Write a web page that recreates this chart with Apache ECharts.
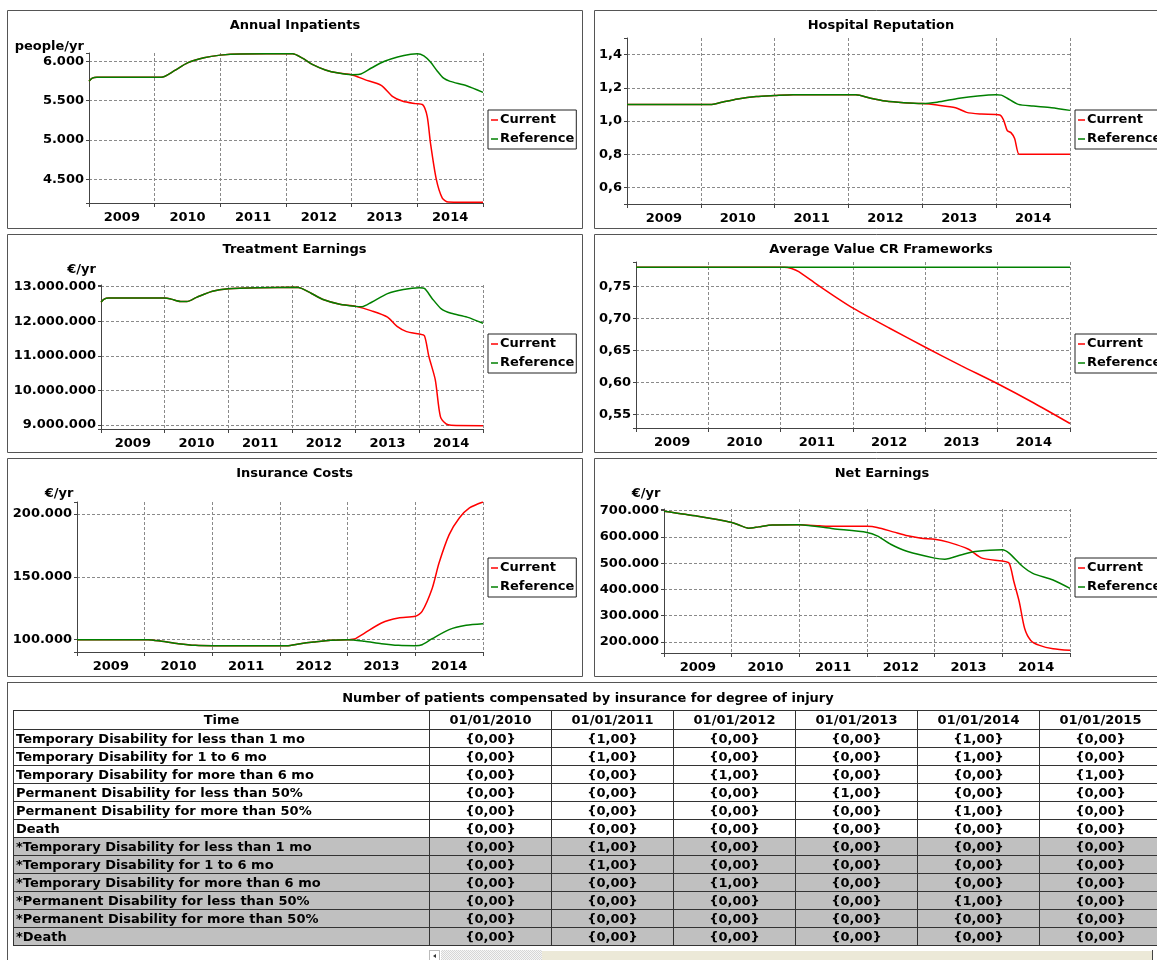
<!DOCTYPE html>
<html>
<head>
<meta charset="utf-8">
<script src="https://cdn.jsdelivr.net/npm/echarts@6.0.0/dist/echarts.min.js"></script>
<style>
html,body{margin:0;padding:0;background:#fff;width:1157px;height:960px;overflow:hidden;position:relative;}
#chart{position:absolute;left:0;top:0;width:1157px;height:960px;}
#tpanel{position:absolute;left:7px;top:682px;width:1165px;height:300px;border:1px solid #555;box-sizing:border-box;}
#ttitle{position:absolute;left:7px;width:1162px;top:690px;text-align:center;font:bold 13px "DejaVu Sans",Verdana,sans-serif;line-height:16px;color:#000;}
#tbl{position:absolute;left:13px;top:710px;border-collapse:collapse;table-layout:fixed;font:bold 13px "DejaVu Sans",Verdana,sans-serif;color:#000;}
#tbl td,#tbl th{border:1px solid #333;padding:0 2px;height:17px;line-height:17px;white-space:nowrap;overflow:hidden;font-weight:bold;}
#tbl th{height:18px;line-height:18px;text-align:center;}
#tbl td.v{text-align:center;}
#tbl tr.g td{background:#c0c0c0;}
#sb{position:absolute;left:429px;top:950px;width:740px;height:12px;}
#sb .arr{position:absolute;left:0;top:0;width:11px;height:11px;background:#fff;border:1px solid #bbb;box-sizing:border-box;}
#sb .arr:after{content:"";position:absolute;left:3px;top:3px;border-style:solid;border-width:2px 3px 2px 0;border-color:transparent #333 transparent transparent;}
#sb .trk{position:absolute;left:12px;top:0;width:101px;height:12px;background-image:repeating-conic-gradient(#d6d6d6 0 25%,#f6f6f6 0 50%);background-size:2px 2px;}
#sb .thm{position:absolute;left:113px;top:0;width:610px;height:12px;background:#ece9d8;border-top:1px solid #fff;box-sizing:border-box;}
#sb .end{position:absolute;left:723px;top:0;width:1px;height:12px;background:#444;}
</style>
</head>
<body>
<div id="chart"></div>
<div id="tpanel"></div>
<div id="ttitle"></div>
<table id="tbl"></table>
<div id="sb"><div class="arr"></div><div class="trk"></div><div class="thm"></div><div class="end"></div></div>
<script>
// ---------- x-axis labels ----------
const years = ['2009', '2010', '2011', '2012', '2013', '2014'];

// ---------- Annual Inpatients (people/yr) ----------
const inpRefT = [2009.00, 2009.05, 2009.12, 2010.10, 2010.30, 2010.50, 2010.75, 2011.00, 2011.30, 2012.10, 2012.25, 2012.40, 2012.60, 2012.80, 2013.00, 2013.12, 2013.30, 2013.50, 2013.70, 2013.90, 2014.00, 2014.10, 2014.20, 2014.30, 2014.40, 2014.50, 2014.75, 2015.00];
const inpRefV = [5745, 5785, 5797, 5797, 5880, 5980, 6045, 6078, 6093, 6095, 6040, 5960, 5890, 5850, 5830, 5835, 5915, 6000, 6055, 6090, 6095, 6068, 5990, 5880, 5785, 5745, 5690, 5605];
const inpCurT = [2009.00, 2009.05, 2009.12, 2010.10, 2010.30, 2010.50, 2010.75, 2011.00, 2011.30, 2012.10, 2012.25, 2012.40, 2012.60, 2012.80, 2013.00, 2013.20, 2013.45, 2013.62, 2013.78, 2013.97, 2014.08, 2014.15, 2014.20, 2014.29, 2014.38, 2014.47, 2014.60, 2015.00];
const inpCurV = [5745, 5785, 5797, 5797, 5880, 5980, 6045, 6078, 6093, 6095, 6040, 5960, 5890, 5850, 5830, 5767, 5695, 5555, 5492, 5462, 5449, 5300, 4962, 4496, 4263, 4212, 4210, 4210];

// ---------- Hospital Reputation ----------
const repRefT = [2009.00, 2010.15, 2010.30, 2010.50, 2010.75, 2011.00, 2011.25, 2012.10, 2012.30, 2012.50, 2012.75, 2013.00, 2013.20, 2013.50, 2013.75, 2014.00, 2014.07, 2014.15, 2014.30, 2014.50, 2014.75, 2015.00];
const repRefV = [1.100, 1.100, 1.115, 1.133, 1.147, 1.153, 1.158, 1.158, 1.137, 1.120, 1.110, 1.105, 1.113, 1.137, 1.151, 1.158, 1.156, 1.137, 1.100, 1.090, 1.080, 1.064];
const repCurT = [2009.00, 2010.15, 2010.30, 2010.50, 2010.75, 2011.00, 2011.25, 2012.10, 2012.30, 2012.50, 2012.75, 2013.00, 2013.20, 2013.45, 2013.60, 2013.80, 2014.05, 2014.10, 2014.15, 2014.20, 2014.25, 2014.31, 2014.40, 2015.00];
const repCurV = [1.100, 1.100, 1.115, 1.133, 1.147, 1.153, 1.158, 1.158, 1.137, 1.120, 1.110, 1.105, 1.096, 1.080, 1.052, 1.042, 1.036, 1.006, 0.942, 0.930, 0.895, 0.800, 0.800, 0.800];

// ---------- Treatment Earnings (EUR/yr) ----------
const teRefT = [2009.00, 2009.05, 2009.12, 2010.00, 2010.10, 2010.25, 2010.35, 2010.50, 2010.75, 2011.00, 2011.50, 2012.05, 2012.15, 2012.30, 2012.50, 2012.75, 2013.00, 2013.10, 2013.25, 2013.50, 2013.75, 2014.00, 2014.08, 2014.20, 2014.35, 2014.50, 2014.75, 2015.00];
const teRefV = [12550000, 12640000, 12670000, 12670000, 12640000, 12570000, 12570000, 12690000, 12870000, 12940000, 12970000, 12980000, 12950000, 12810000, 12620000, 12490000, 12430000, 12420000, 12550000, 12800000, 12920000, 12970000, 12950000, 12660000, 12350000, 12230000, 12120000, 11940000];
const teCurT = [2009.00, 2009.05, 2009.12, 2010.00, 2010.10, 2010.25, 2010.35, 2010.50, 2010.75, 2011.00, 2011.50, 2012.05, 2012.15, 2012.30, 2012.50, 2012.75, 2013.00, 2013.25, 2013.50, 2013.65, 2013.80, 2014.00, 2014.08, 2014.15, 2014.25, 2014.33, 2014.42, 2014.50, 2015.00];
const teCurV = [12550000, 12640000, 12670000, 12670000, 12640000, 12570000, 12570000, 12690000, 12870000, 12940000, 12970000, 12980000, 12950000, 12810000, 12620000, 12490000, 12430000, 12300000, 12120000, 11850000, 11700000, 11630000, 11580000, 10980000, 10310000, 9250000, 9030000, 8990000, 8980000];

// ---------- Average Value CR Frameworks ----------
const crRefT = [2009.00, 2015.00];
const crRefV = [0.780, 0.780];
const crCurT = [2009.00, 2011.05, 2011.15, 2011.25, 2011.50, 2011.75, 2012.00, 2012.50, 2013.00, 2013.50, 2014.00, 2014.50, 2015.00];
const crCurV = [0.780, 0.780, 0.778, 0.773, 0.753, 0.734, 0.716, 0.685, 0.655, 0.626, 0.598, 0.568, 0.536];

// ---------- Insurance Costs (EUR/yr) ----------
const icRefT = [2009.00, 2010.05, 2010.25, 2010.50, 2010.75, 2011.00, 2012.10, 2012.30, 2012.50, 2012.75, 2013.00, 2013.25, 2013.50, 2013.75, 2014.00, 2014.10, 2014.25, 2014.50, 2014.75, 2015.00];
const icRefV = [100000, 100000, 98700, 96800, 95500, 95200, 95200, 96800, 98100, 99500, 100000, 98700, 96800, 95500, 95200, 96000, 100800, 108000, 111400, 112700];
const icCurT = [2009.00, 2010.05, 2010.25, 2010.50, 2010.75, 2011.00, 2012.10, 2012.30, 2012.50, 2012.75, 2013.00, 2013.10, 2013.25, 2013.50, 2013.75, 2014.00, 2014.10, 2014.25, 2014.35, 2014.50, 2014.65, 2014.80, 2015.00];
const icCurV = [100000, 100000, 98700, 96800, 95500, 95200, 95200, 96800, 98100, 99500, 100000, 100500, 105300, 113300, 117200, 118600, 122500, 141000, 161000, 183600, 196800, 204800, 209500];

// ---------- Net Earnings (EUR/yr) ----------
const neRefT = [2009.00, 2009.50, 2010.00, 2010.10, 2010.25, 2010.40, 2010.60, 2011.00, 2011.50, 2012.00, 2012.15, 2012.35, 2012.60, 2013.00, 2013.15, 2013.40, 2013.60, 2014.00, 2014.10, 2014.30, 2014.45, 2014.75, 2015.00];
const neRefV = [697000, 678000, 655000, 646000, 633000, 638000, 645000, 646000, 631000, 617000, 604000, 572000, 544000, 519000, 515000, 532000, 544000, 551000, 538000, 487000, 461000, 436000, 404000];
const neCurT = [2009.00, 2009.50, 2010.00, 2010.10, 2010.25, 2010.40, 2010.60, 2011.00, 2011.30, 2011.50, 2012.00, 2012.15, 2012.40, 2012.60, 2012.80, 2013.00, 2013.20, 2013.50, 2013.70, 2014.00, 2014.10, 2014.17, 2014.25, 2014.33, 2014.42, 2014.55, 2014.75, 2015.00];
const neCurV = [697000, 678000, 655000, 646000, 633000, 638000, 645000, 646000, 642000, 640000, 640000, 636000, 618000, 604000, 595000, 591000, 580000, 553000, 519000, 508000, 500000, 430000, 353000, 251000, 206000, 187000, 174000, 168000];

// ---------- Table ----------
const tableTitle = 'Number of patients compensated by insurance for degree of injury';
const tableHeadFirst = 'Time';
const tableDates = ['01/01/2010', '01/01/2011', '01/01/2012', '01/01/2013', '01/01/2014', '01/01/2015'];
const tableRowNames = [
  'Temporary Disability for less than 1 mo',
  'Temporary Disability for 1 to 6 mo',
  'Temporary Disability for more than 6 mo',
  'Permanent Disability for less than 50%',
  'Permanent Disability for more than 50%',
  'Death',
  '*Temporary Disability for less than 1 mo',
  '*Temporary Disability for 1 to 6 mo',
  '*Temporary Disability for more than 6 mo',
  '*Permanent Disability for less than 50%',
  '*Permanent Disability for more than 50%',
  '*Death'
];
const tableValues = [
  [0, 1, 0, 0, 1, 0],
  [0, 1, 0, 0, 1, 0],
  [0, 0, 1, 0, 0, 1],
  [0, 0, 0, 1, 0, 0],
  [0, 0, 0, 0, 1, 0],
  [0, 0, 0, 0, 0, 0],
  [0, 1, 0, 0, 0, 0],
  [0, 1, 0, 0, 0, 0],
  [0, 0, 1, 0, 0, 0],
  [0, 0, 0, 0, 1, 0],
  [0, 0, 0, 0, 0, 0],
  [0, 0, 0, 0, 0, 0]
];

// ================= rendering =================
const FONT = '"DejaVu Sans", Verdana, sans-serif';
const RED = '#ff0000', GREEN = '#008000';

function fmtNum(v, dec) {
  const s = Math.abs(v).toFixed(dec);
  const parts = s.split('.');
  const ip = parts[0].replace(/\B(?=(\d{3})+(?!\d))/g, '.');
  return (v < 0 ? '-' : '') + (parts[1] ? ip + ',' + parts[1] : ip);
}
function labelFmt(step, dec) {
  return function (v) {
    const r = v / step;
    return Math.abs(r - Math.round(r)) < 1e-6 ? fmtNum(v, dec) : '';
  };
}
function pairs(t, v) { return t.map(function (x, i) { return [x, v[i]]; }); }

const charts = [
  { title: 'Annual Inpatients', unit: 'people/yr', cur: [inpCurT, inpCurV], ref: [inpRefT, inpRefV],
    yMin: 4200, yMax: 6105, yStep: 500, dec: 0,
    box: [7, 10, 575, 218], titlePos: [295, 25.5], unitPos: [84, 46.5], grid: [89, 53, 394, 150], legendPos: [488, 110], ym: 5 },
  { title: 'Hospital Reputation', unit: null, cur: [repCurT, repCurV], ref: [repRefT, repRefV],
    yMin: 0.5, yMax: 1.5, yStep: 0.2, dec: 1,
    box: [594, 10, 575, 218], titlePos: [881, 25.5], unitPos: null, grid: [627, 38, 443, 166], legendPos: [1075, 110], ym: 5 },
  { title: 'Treatment Earnings', unit: '€/yr', cur: [teCurT, teCurV], ref: [teRefT, teRefV],
    yMin: 8884000, yMax: 13048000, yStep: 1000000, dec: 0,
    box: [7, 234, 575, 218], titlePos: [294.5, 249.5], unitPos: [96, 270], grid: [101, 285, 382, 144], legendPos: [488, 334], ym: 5 },
  { title: 'Average Value CR Frameworks', unit: null, cur: [crCurT, crCurV], ref: [crRefT, crRefV],
    yMin: 0.529, yMax: 0.788, yStep: 0.05, dec: 2,
    box: [594, 234, 575, 218], titlePos: [881, 249.5], unitPos: null, grid: [636, 262, 434, 166], legendPos: [1075, 334], ym: 5 },
  { title: 'Insurance Costs', unit: '€/yr', cur: [icCurT, icCurV], ref: [icRefT, icRefV],
    yMin: 90200, yMax: 209550, yStep: 50000, dec: 0,
    box: [7, 458, 575, 218], titlePos: [294.5, 473.5], unitPos: [73.5, 493.5], grid: [77, 502, 406, 150], legendPos: [488, 558], ym: 5 },
  { title: 'Net Earnings', unit: '€/yr', cur: [neCurT, neCurV], ref: [neRefT, neRefV],
    yMin: 158000, yMax: 706000, yStep: 100000, dec: 0,
    box: [594, 458, 575, 218], titlePos: [882, 473.5], unitPos: [660.5, 494], grid: [664, 509, 406, 144], legendPos: [1075, 558], ym: 5 }
];

const gridLine = { color: '#8a8a8a', type: [3, 2], width: 1 };
const axisCol = '#444';
const option = { animation: false, backgroundColor: 'transparent', grid: [], xAxis: [], yAxis: [], series: [], legend: [], graphic: { elements: [] } };

charts.forEach(function (c, i) {
  option.grid.push({ left: c.grid[0], top: c.grid[1], width: c.grid[2], height: c.grid[3], containLabel: false });
  option.xAxis.push({
    type: 'value', gridIndex: i, min: 2009, max: 2015, interval: 1,
    axisLine: { show: true, onZero: false, lineStyle: { color: axisCol, width: 1 } },
    axisTick: { show: true, length: 4, lineStyle: { color: axisCol } },
    axisLabel: { show: false },
    splitLine: { show: true, showMinLine: false, lineStyle: gridLine }
  });
  option.xAxis.push({
    type: 'category', gridIndex: i, position: 'bottom', data: years, boundaryGap: true,
    axisLine: { show: false }, axisTick: { show: false }, splitLine: { show: false },
    axisLabel: { interval: 0, margin: 8.5, color: '#000', fontFamily: FONT, fontSize: 13, fontWeight: 'bold' }
  });
  option.yAxis.push({
    type: 'value', gridIndex: i, min: c.yMin, max: c.yMax, minInterval: c.yStep, maxInterval: c.yStep,
    axisLine: { show: true, onZero: false, lineStyle: { color: axisCol, width: 1 } },
    axisTick: { show: true, length: 3, lineStyle: { color: axisCol } },
    axisLabel: { margin: c.ym, color: '#000', fontFamily: FONT, fontSize: 13, fontWeight: 'bold', formatter: labelFmt(c.yStep, c.dec), showMinLabel: true, showMaxLabel: true },
    splitLine: { show: true, showMinLine: false, showMaxLine: false, lineStyle: gridLine }
  });
  option.series.push({
    name: 'Current', type: 'line', xAxisIndex: 2 * i, yAxisIndex: i, data: pairs(c.cur[0], c.cur[1]),
    showSymbol: false, smooth: 0.25, lineStyle: { color: RED, width: 1.5 }, itemStyle: { color: RED }, z: 3
  });
  option.series.push({
    name: 'Reference', type: 'line', xAxisIndex: 2 * i, yAxisIndex: i, data: pairs(c.ref[0], c.ref[1]),
    showSymbol: false, smooth: 0.25, lineStyle: { color: GREEN, width: 1.5 }, itemStyle: { color: GREEN }, z: 4
  });
  option.legend.push({
    left: c.legendPos[0], top: c.legendPos[1], orient: 'vertical', data: ['Current', 'Reference'],
    icon: 'rect', itemWidth: 7, itemHeight: 1.5, itemGap: 5, padding: [3, 2, 3, 3],
    borderColor: '#222', borderWidth: 1, backgroundColor: '#fff', selectedMode: false,
    textStyle: { fontFamily: FONT, fontSize: 13, fontWeight: 'bold', color: '#000', lineHeight: 14, padding: [0, 0, 0, -3] }
  });
  option.graphic.elements.push({
    type: 'rect', shape: { x: c.box[0] + 0.5, y: c.box[1] + 0.5, width: c.box[2], height: c.box[3] },
    style: { fill: 'none', stroke: '#555', lineWidth: 1 }, silent: true, z: 0
  });
  option.graphic.elements.push({
    type: 'text', x: c.titlePos[0], y: c.titlePos[1],
    style: { text: c.title, align: 'center', verticalAlign: 'middle', fontFamily: FONT, fontSize: 13, fontWeight: 'bold', fill: '#000' }, silent: true
  });
  if (c.unit) {
    option.graphic.elements.push({
      type: 'text', x: c.unitPos[0], y: c.unitPos[1],
      style: { text: c.unit, align: 'right', verticalAlign: 'middle', fontFamily: FONT, fontSize: 13, fontWeight: 'bold', fill: '#000' }, silent: true
    });
  }
});

const chart = echarts.init(document.getElementById('chart'), null, { renderer: 'canvas' });
chart.setOption(option);

// ---------- table ----------
document.getElementById('ttitle').textContent = tableTitle;
(function buildTable() {
  const tbl = document.getElementById('tbl');
  let html = '<colgroup><col style="width:416px">';
  tableDates.forEach(function () { html += '<col style="width:122px">'; });
  html += '</colgroup><tr><th>' + tableHeadFirst + '</th>';
  tableDates.forEach(function (d) { html += '<th>' + d + '</th>'; });
  html += '</tr>';
  tableRowNames.forEach(function (name, r) {
    html += '<tr' + (name.charAt(0) === '*' ? ' class="g"' : '') + '><td>' + name + '</td>';
    tableValues[r].forEach(function (v) { html += '<td class="v">{' + v.toFixed(2).replace('.', ',') + '}</td>'; });
    html += '</tr>';
  });
  tbl.innerHTML = html;
  tbl.style.width = (416 + 122 * tableDates.length) + 'px';
})();
</script>
</body>
</html>
